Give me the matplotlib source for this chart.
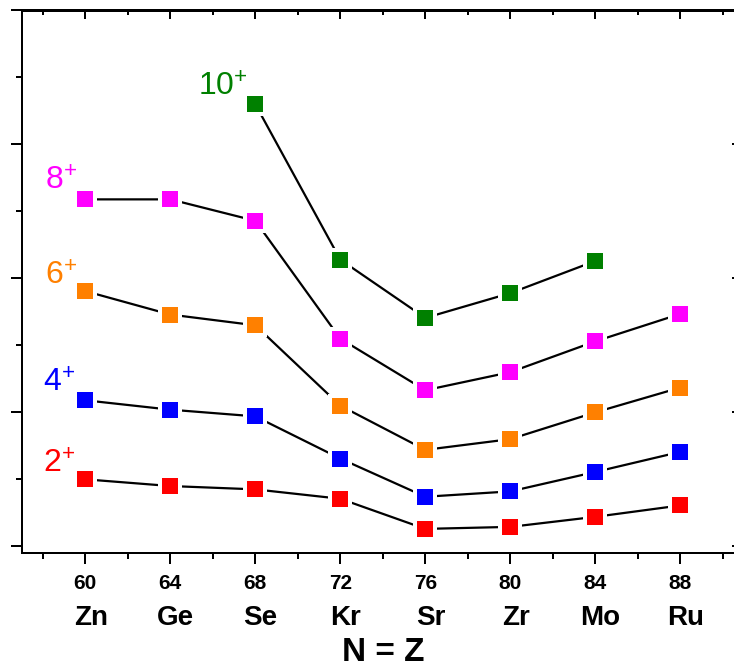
import matplotlib
matplotlib.use("Agg")
import matplotlib.pyplot as plt
from matplotlib.ticker import MultipleLocator
from matplotlib.transforms import blended_transform_factory

plt.rcParams['font.family'] = ['Liberation Sans', 'DejaVu Sans']
plt.rcParams['mathtext.default'] = 'regular'

# N = Z nuclei (mass number A = N + Z) and element symbols
mass_numbers = [60, 64, 68, 72, 76, 80, 84, 88]
elements = ["Zn", "Ge", "Se", "Kr", "Sr", "Zr", "Mo", "Ru"]

# Yrast level energies (MeV)
e_2plus = [1.00, 0.90, 0.85, 0.71, 0.26, 0.29, 0.44, 0.61]
e_4plus = [2.18, 2.04, 1.94, 1.31, 0.74, 0.82, 1.11, 1.41]
e_6plus = [3.81, 3.46, 3.30, 2.10, 1.44, 1.60, 2.00, 2.37]
e_8plus = [5.18, 5.18, 4.86, 3.10, 2.33, 2.60, 3.06, 3.47]
mass_10plus = [68, 72, 76, 80, 84]
e_10plus = [6.60, 4.28, 3.41, 3.78, 4.26]

spins = ["2", "4", "6", "8", "10"]
colors = ["#ff0000", "#0000ff", "#ff8000", "#ff00ff", "#008000"]
series = [
    (mass_numbers, e_2plus),
    (mass_numbers, e_4plus),
    (mass_numbers, e_6plus),
    (mass_numbers, e_8plus),
    (mass_10plus, e_10plus),
]
# spin label anchors (x in A, y in MeV)
label_pos = [(58.0, 1.10), (58.0, 2.31), (58.1, 3.91), (58.1, 5.33), (65.3, 6.73)]

fig = plt.figure(figsize=(7.34, 6.69), dpi=100)
ax = fig.add_axes([22 / 734, 116 / 669, 718 / 734, 542.5 / 669])

px = 72 / 100  # points per pixel
for (xs, ys), c in zip(series, colors):
    ax.plot(xs, ys, color="black", lw=1.6, marker="s",
            markersize=20 * px, markerfacecolor=c,
            markeredgecolor="white", markeredgewidth=4 * px, zorder=3)

for s, c, (lx, ly) in zip(spins, colors, label_pos):
    ax.text(lx, ly, s + r"$^{+}$", color=c, fontsize=23,
            ha="left", va="baseline")

ax.set_xlim(57.02, 90.81)
ax.set_ylim(-0.1, 8.0)

ax.xaxis.set_major_locator(MultipleLocator(4))
ax.xaxis.set_minor_locator(MultipleLocator(2))
ax.yaxis.set_major_locator(MultipleLocator(2))
ax.yaxis.set_minor_locator(MultipleLocator(1))
ax.set_xticks(mass_numbers)
ax.set_xticklabels([str(m) for m in mass_numbers], fontsize=15,
                   fontweight="bold")
ax.set_yticklabels([])

ax.tick_params(axis="x", which="major", direction="out", length=11 * px,
               width=2 * px, pad=10 * px)
ax.tick_params(axis="x", which="minor", direction="out", length=6 * px,
               width=2 * px)
ax.tick_params(axis="y", which="major", direction="out", length=11 * px,
               width=2 * px)
ax.tick_params(axis="y", which="minor", direction="out", length=6 * px,
               width=2 * px)
for sp in ax.spines.values():
    sp.set_linewidth(2 * px)

top = ax.secondary_xaxis("top")
top.xaxis.set_major_locator(MultipleLocator(4))
top.xaxis.set_minor_locator(MultipleLocator(2))
top.tick_params(which="major", direction="in", length=9 * px,
                width=2 * px, labeltop=False)
top.tick_params(which="minor", direction="in", length=5 * px,
                width=2 * px)
top.spines["top"].set_linewidth(2 * px)

right = ax.secondary_yaxis("right")
right.yaxis.set_major_locator(MultipleLocator(2))
right.yaxis.set_minor_locator(MultipleLocator(1))
right.tick_params(which="major", direction="in", length=8 * px,
                  width=2 * px, labelright=False)
right.tick_params(which="minor", direction="in", length=5 * px,
                  width=2 * px)
right.spines["right"].set_linewidth(2 * px)

trans = blended_transform_factory(ax.transData, ax.transAxes)
for m, el in zip(mass_numbers, elements):
    ax.text(m + 0.25, -0.1327, el, transform=trans, ha="center",
            va="baseline", fontsize=20, fontweight="bold")

fig.text(383.5 / 734, 1 / 669, "N = Z", ha="center", va="bottom",
         fontsize=24, fontweight="bold")

fig.savefig("out.png", dpi=100)
